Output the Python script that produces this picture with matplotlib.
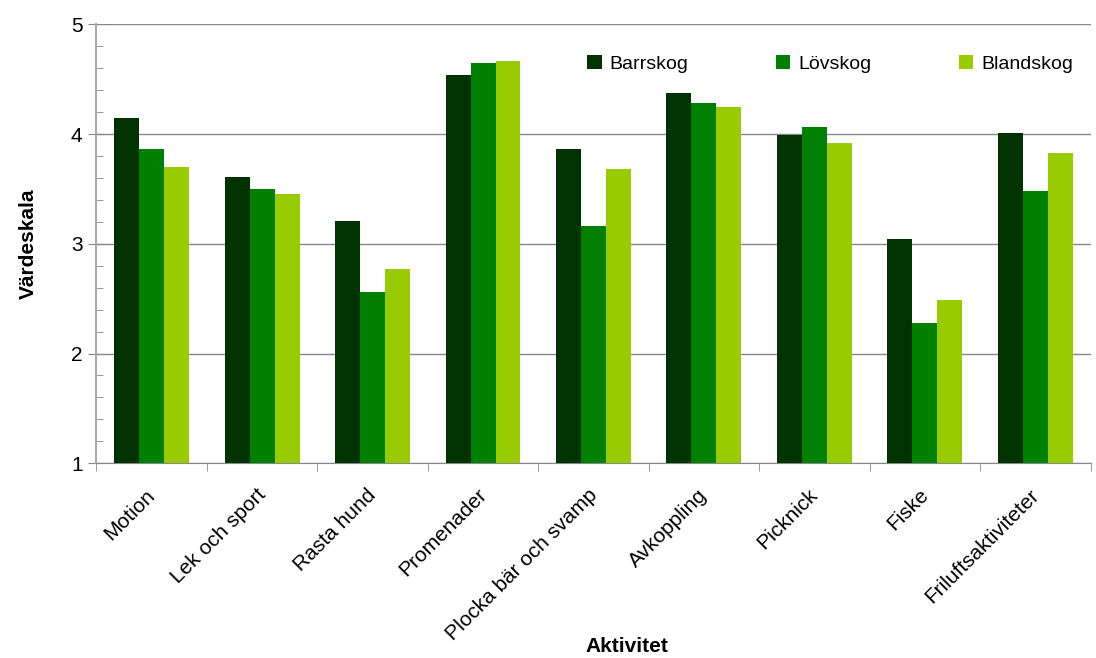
import matplotlib
matplotlib.use("Agg")
import matplotlib.pyplot as plt
import matplotlib.transforms as mtransforms
import numpy as np
from matplotlib.ticker import MultipleLocator, FixedLocator

plt.rcParams['font.family'] = ['Liberation Sans', 'DejaVu Sans']

# data
aktiviteter = ['Motion', 'Lek och sport', 'Rasta hund', 'Promenader',
               'Plocka bär och svamp', 'Avkoppling', 'Picknick', 'Fiske',
               'Friluftsaktiviteter']
barrskog = [4.15, 3.61, 3.21, 4.54, 3.86, 4.37, 3.99, 3.04, 4.01]
lovskog = [3.86, 3.50, 2.56, 4.65, 3.16, 4.28, 4.06, 2.28, 3.48]
blandskog = [3.70, 3.45, 2.77, 4.67, 3.68, 4.25, 3.92, 2.49, 3.83]

series = [('Barrskog', barrskog, '#003300'),
          ('Lövskog', lovskog, '#008000'),
          ('Blandskog', blandskog, '#99CC00')]

fig = plt.figure(figsize=(10.96, 6.58), dpi=100)
ax = fig.add_axes([0.088, 0.296, 0.907, 0.667])

x = np.arange(len(aktiviteter))
w = 0.226
for i, (name, vals, col) in enumerate(series):
    ax.bar(x + (i - 1) * w, np.array(vals) - 1, width=w, bottom=1,
           color=col, label=name, zorder=3)

ax.set_xlim(-0.5, len(aktiviteter) - 0.5)
ax.set_ylim(1, 5)
ax.yaxis.set_major_locator(MultipleLocator(1))
ax.yaxis.set_minor_locator(MultipleLocator(0.2))
ax.grid(axis='y', which='major', color='#888888', linewidth=1.0, zorder=0)

for s in ['top', 'right']:
    ax.spines[s].set_visible(False)
ax.spines['left'].set_color('#aaaaaa')
ax.spines['left'].set_linewidth(1.5)
ax.spines['bottom'].set_color('#888888')

ax.tick_params(axis='y', which='major', direction='inout', length=12,
               color='#888888', labelsize=15, pad=4)
ax.tick_params(axis='y', which='minor', direction='in', length=5,
               color='#888888')

# category labels at centres, boundary ticks between categories
ax.set_xticks(x)
ax.set_xticklabels(aktiviteter, rotation=45, ha='right', rotation_mode='anchor')
ax.xaxis.set_minor_locator(FixedLocator(np.arange(len(aktiviteter) + 1) - 0.5))
ax.tick_params(axis='x', which='major', length=0, labelsize=15, pad=16)
ax.tick_params(axis='x', which='minor', direction='out', length=6,
               color='#888888')
shift = mtransforms.ScaledTranslation(-6 / 100, 0, fig.dpi_scale_trans)
for lab in ax.get_xticklabels():
    lab.set_transform(lab.get_transform() + shift)

ax.set_ylabel('Värdeskala', fontsize=15, fontweight='bold', labelpad=24)
ax.set_xlabel('Aktivitet', fontsize=15, fontweight='bold')
ax.xaxis.set_label_coords(0.534, -0.395)

ax.legend(loc='upper right', ncol=3, frameon=False, fontsize=14,
          handlelength=0.75, handleheight=0.75, columnspacing=4.5,
          handletextpad=0.4, bbox_to_anchor=(1.0, 0.97))

fig.savefig('out.png', dpi=100)
